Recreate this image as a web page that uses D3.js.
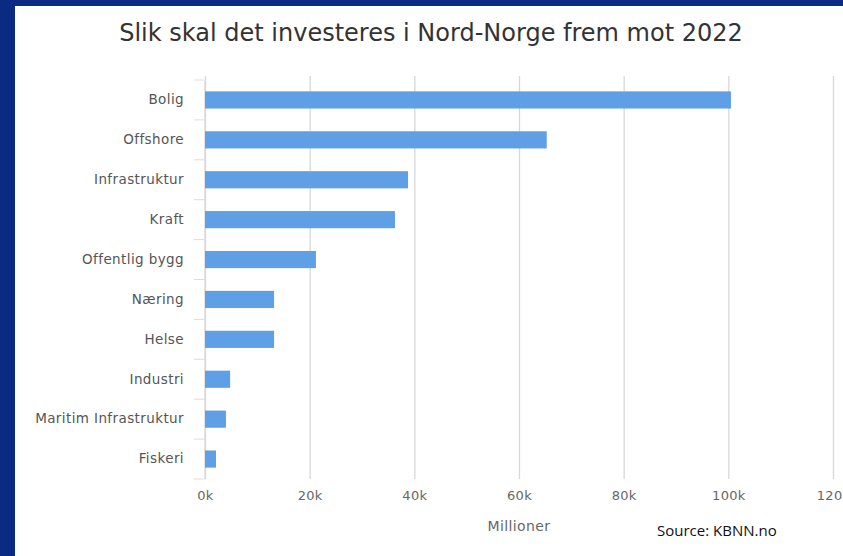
<!DOCTYPE html>
<html>
<head>
<meta charset="utf-8">
<script src="https://cdn.jsdelivr.net/npm/d3@7"></script>
<style>
  html, body { margin: 0; padding: 0; background: #0b2a82; }
  svg { display: block; }
</style>
</head>
<body>
<script>
var width = 843;
var height = 556;
var margin = {top: 80, right: 10, bottom: 77, left: 205};
var font = "'DejaVu Sans', sans-serif";

var categories = ["Bolig", "Offshore", "Infrastruktur", "Kraft", "Offentlig bygg",
                  "Næring", "Helse", "Industri", "Maritim Infrastruktur", "Fiskeri"];
var values = [100500, 65300, 38800, 36300, 21200, 13200, 13200, 4800, 4000, 2100];
var xTicks = [0, 20000, 40000, 60000, 80000, 100000, 120000];

var svg = d3.select("body")
  .append("svg")
  .attr("width", width)
  .attr("height", height);

// blue frame + white panel
svg.append("rect")
  .attr("width", width).attr("height", height)
  .attr("fill", "#0b2a82");
svg.append("rect")
  .attr("x", 15).attr("y", 6)
  .attr("width", width - 15).attr("height", height - 6)
  .attr("fill", "#ffffff");

// title
svg.append("text")
  .attr("x", 431)
  .attr("y", 41)
  .attr("text-anchor", "middle")
  .style("font-family", font)
  .style("font-size", "24px")
  .style("fill", "#333")
  .text("Slik skal det investeres i Nord-Norge frem mot 2022");

//-----------------------------------------
// scales
var xScale = d3.scaleLinear()
  .domain([0, 120000])
  .range([margin.left, 833]);

var yScale = d3.scaleBand()
  .domain(categories)
  .range([margin.top, 479])
  .paddingInner(0.57)
  .paddingOuter(0.285);

// gridlines
svg.append("g")
  .selectAll("line")
  .data(xTicks)
  .enter()
  .append("line")
  .attr("x1", d => xScale(d) + 0.5)
  .attr("x2", d => xScale(d) + 0.5)
  .attr("y1", margin.top - 4)
  .attr("y2", 479)
  .attr("stroke", "#d8d8d8")
  .attr("stroke-width", 1.3);

// x axis labels
var xAxis = d3.axisBottom(xScale)
  .tickValues(xTicks)
  .tickSize(0)
  .tickPadding(12)
  .tickFormat(d => (d / 1000) + "k");

svg.append("g")
  .attr("transform", "translate(0,479)")
  .call(xAxis)
  .call(g => g.select(".domain").remove())
  .selectAll("text")
  .style("font-family", font)
  .style("font-size", "13px")
  .style("letter-spacing", "0.3px")
  .style("fill", "#666");

// y axis (category)
var yAxis = d3.axisLeft(yScale)
  .tickSize(0)
  .tickPadding(20);

var yG = svg.append("g")
  .attr("transform", "translate(" + (margin.left - 1) + ",0)")
  .call(yAxis);
yG.select(".domain").attr("stroke", "#e4e4e4");
yG.selectAll("text")
  .style("font-family", font)
  .style("font-size", "13.5px")
  .style("letter-spacing", "0.4px")
  .style("fill", "#555");

// category boundary ticks
var step = yScale.step();
svg.append("g")
  .selectAll("line")
  .data(d3.range(categories.length + 1))
  .enter()
  .append("line")
  .attr("x1", margin.left - 11)
  .attr("x2", margin.left - 1)
  .attr("y1", i => margin.top + i * step)
  .attr("y2", i => margin.top + i * step)
  .attr("stroke", "#e2dcd8");

//-----------------------------------------
// bars
svg.append("g")
  .selectAll("rect")
  .data(categories)
  .enter()
  .append("rect")
  .attr("x", xScale(0))
  .attr("y", d => yScale(d))
  .attr("width", (d, i) => xScale(values[i]) - xScale(0))
  .attr("height", yScale.bandwidth())
  .attr("fill", "#5f9fe6");

// axis title + source
svg.append("text")
  .attr("x", 519)
  .attr("y", 531)
  .attr("text-anchor", "middle")
  .style("font-family", font)
  .style("font-size", "14px")
  .style("letter-spacing", "0.4px")
  .style("fill", "#666")
  .text("Millioner");

svg.append("text")
  .attr("x", 657)
  .attr("y", 536)
  .style("font-family", "'Open Sans', sans-serif")
  .style("font-size", "15px")
  .style("fill", "#111")
  .text("Source: KBNN.no");
</script>
</body>
</html>
